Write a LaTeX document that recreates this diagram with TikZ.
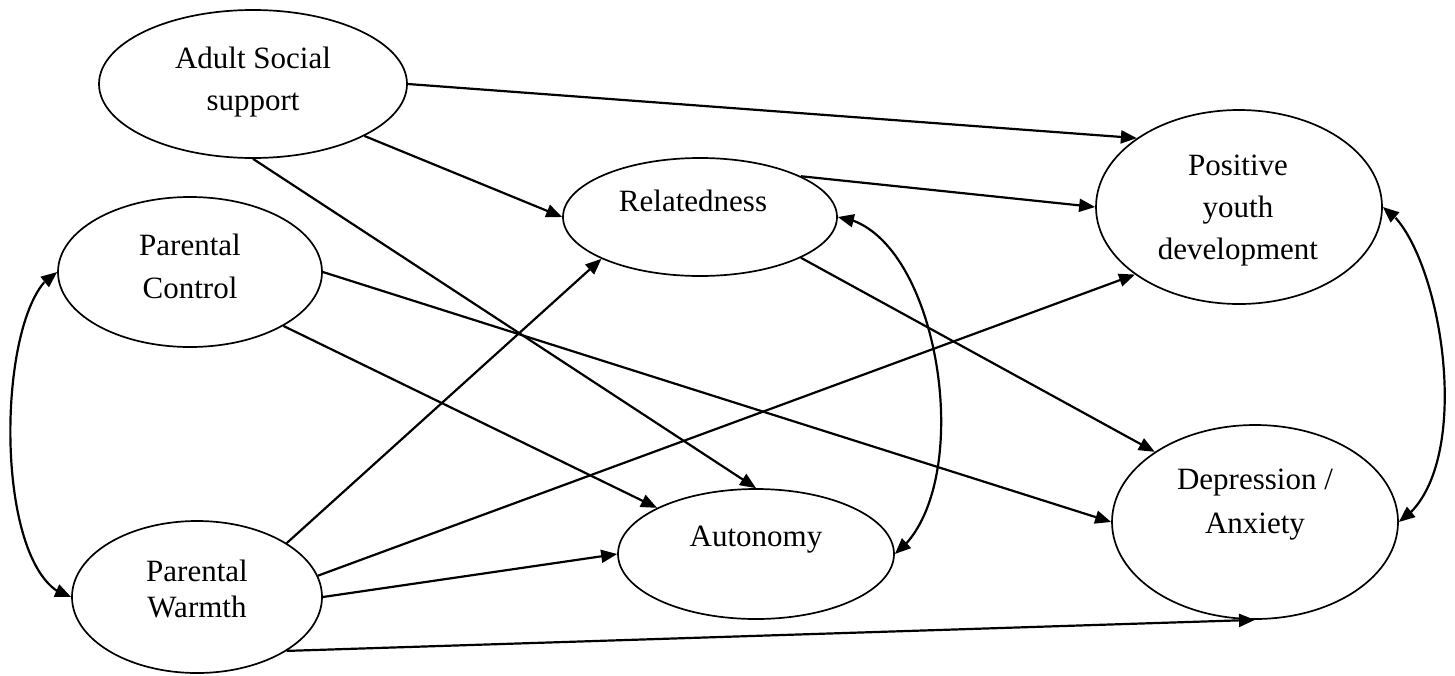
\documentclass[tikz,border=0pt]{standalone}
\usepackage{fontspec}
\setmainfont{Liberation Serif}
\usetikzlibrary{shapes.geometric,arrows.meta,bending}
\begin{document}
\begin{tikzpicture}[x=1pt,y=-1pt,
  ell/.style={draw, ellipse, line width=1.7pt, inner sep=0pt},
  lbl/.style={anchor=base, font=\fontsize{31}{36}\selectfont, inner sep=0pt},
  arr/.style={line width=2.2pt, -{Triangle[length=16pt,width=13pt]}},
  darr/.style={line width=2.2pt, {Triangle[length=16pt,width=13pt]}-{Triangle[length=16pt,width=13pt]}}]
\useasboundingbox (0,0) rectangle (1455,675);
% ellipses
\node[ell, minimum width=308pt, minimum height=148pt] (ass) at (253,84) {};
\node[ell, minimum width=264pt, minimum height=150pt] (pc) at (190,272) {};
\node[ell, minimum width=250pt, minimum height=152pt] (pw) at (197,597) {};
\node[ell, minimum width=274pt, minimum height=118pt] (rel) at (700,217) {};
\node[ell, minimum width=276pt, minimum height=130pt] (aut) at (756,554) {};
\node[ell, minimum width=286pt, minimum height=194pt] (pyd) at (1239,207) {};
\node[ell, minimum width=286pt, minimum height=194pt] (dep) at (1255,522) {};
% labels
\node[lbl] (assA) at (253,68) {Adult Social};
\node[lbl] (assB) at (253,110) {support};
\node[lbl] (pcA) at (190,255) {Parental};
\node[lbl] (pcB) at (190,298) {Control};
\node[lbl] (pwA) at (197,581) {Parental};
\node[lbl] (pwB) at (197,617) {Warmth};
\node[lbl] (relA) at (693,211) {Relatedness};
\node[lbl] (autA) at (756,546) {Autonomy};
\node[lbl] (pydA) at (1238,175) {Positive};
\node[lbl] (pydB) at (1238,217) {youth};
\node[lbl] (pydC) at (1238,259) {development};
\node[lbl] (depA) at (1255,489) {Depression /};
\node[lbl] (depB) at (1255,533) {Anxiety};
% straight paths
\draw[arr] (ass.0) -- (pyd.146);
\draw[arr] (ass.-25.7) -- (rel.180);
\draw[arr] (ass.-90) -- (aut.90);
\draw[arr] (pc.-30.6) -- (aut.155);
\draw[arr] (pc.0) -- (dep.180);
\draw[arr] (pw.31.4) -- (rel.203.7);
\draw[arr] (pw.10.3) -- (pyd.213.7);
\draw[arr] (pw.0) -- (aut.180);
\draw[arr] (pw.-31) -- (dep.-90);
\draw[arr] (rel.22.3) -- (pyd.180);
\draw[arr] (rel.-22.9) -- (dep.145.5);
% correlations
\draw[darr] (rel.0) .. controls (940,228) and (980,490) .. (aut.0);
\draw[darr] (pyd.0) .. controls (1440,240) and (1480,470) .. (dep.0);
\draw[darr] (pc.180) .. controls (-5,300) and (-10,580) .. (pw.180);
\end{tikzpicture}
\end{document}
